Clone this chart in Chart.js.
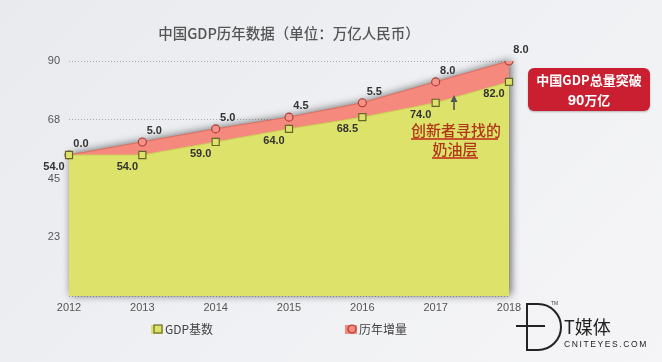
<!DOCTYPE html>
<html>
<head>
<meta charset="utf-8">
<script src="https://cdn.jsdelivr.net/npm/chart.js@4/dist/chart.umd.min.js"></script>
<style>
  html, body { margin: 0; padding: 0; }
  body {
    width: 662px; height: 362px; overflow: hidden; position: relative;
    background: linear-gradient(135deg, #e8eaee 0%, #eff0f3 50%, #f5f5f7 100%);
    font-family: "Liberation Sans", "Noto Sans CJK SC", sans-serif;
  }
  #wrap { position: absolute; left: 0; top: 0; width: 662px; height: 362px; }
  .abs { position: absolute; white-space: nowrap; }
  #title { left: 0; width: 578px; top: 22px; text-align: center; font: 500 14.5px "Noto Sans CJK SC", sans-serif; color: #555; }
  #badge {
    left: 528px; top: 68px; width: 122px; height: 43px; border-radius: 6px;
    background: #c91f30; color: #fff; text-align: center;
    font: 700 13px "Noto Sans CJK SC", sans-serif; line-height: 20px; padding-top: 2px; box-sizing: border-box;
    box-shadow: 0 1px 2px rgba(0,0,0,0.25);
  }
  #badge b { font: 700 15px "Liberation Sans", sans-serif; }
  .note { color: #b0361a; font: 500 15px "Noto Sans CJK SC", sans-serif; text-align: center; border-bottom: 2px solid #c9552c; line-height: 17px; }
  .leg { font: 12px "Noto Sans CJK SC", sans-serif; color: #444; top: 320px; }
  .sw { position: absolute; width: 12px; height: 9px; top: 5px; left: -14px; }
</style>
</head>
<body>
<div id="wrap"><canvas id="gdpChart" width="662" height="362"></canvas></div>

<div class="abs" id="title">中国GDP历年数据（单位：万亿人民币）</div>
<div class="abs" id="badge">中国GDP总量突破<br><b>90</b>万亿</div>

<svg class="abs" style="left:448px;top:95px" width="12" height="16">
  <line x1="6" y1="3" x2="6" y2="15" stroke="#555" stroke-width="1.6"/>
  <polygon points="6,0 2.5,7 9.5,7" fill="#555"/>
</svg>
<div class="abs note" style="left:411px;top:121px;width:87px;">创新者寻找的</div>
<div class="abs note" style="left:432px;top:140px;width:46px;">奶油层</div>

<div class="abs leg" style="left:165px;">
  <span class="sw" style="background:#dde36a;"></span>
  <svg class="abs" style="left:-12px;top:4px" width="10" height="10"><rect x="1" y="1" width="8" height="8" fill="#dde36a" stroke="#6a6a2c" stroke-width="1.2"/></svg>
  GDP基数
</div>
<div class="abs leg" style="left:359px;">
  <span class="sw" style="background:#f5897d;"></span>
  <svg class="abs" style="left:-12px;top:4px" width="10" height="10"><circle cx="5" cy="5" r="4" fill="#f5897d" stroke="#a83a33" stroke-width="1.2"/></svg>
  历年增量
</div>

<svg class="abs" style="left:514px;top:294px" width="48" height="62">
  <path d="M13 10 L24 10 A22 22 0 0 1 24 56 L13 56 Z" fill="none" stroke="#222" stroke-width="2"/>
  <line x1="2" y1="32" x2="31" y2="32" stroke="#222" stroke-width="2"/>
  <text x="37" y="11" font-size="5" fill="#444" font-family="Liberation Sans">TM</text>
</svg>
<div class="abs" style="left:564px;top:313px;font:18px 'Noto Sans CJK SC',sans-serif;color:#222;">T媒体</div>
<div class="abs" style="left:564px;top:339px;font:8.5px 'Liberation Sans',sans-serif;letter-spacing:1.6px;color:#222;">CNITEYES.COM</div>

<script>
const years = ['2012', '2013', '2014', '2015', '2016', '2017', '2018'];
const gdpBase = [54.0, 54.0, 59.0, 64.0, 68.5, 74.0, 82.0];
const yearlyIncrease = [0.0, 5.0, 5.0, 4.5, 5.5, 8.0, 8.0];
const yMax = 90;
const yStep = 22.5;

// soft shadow behind the whole stacked area
const areaShadow = {
    id: 'areaShadow',
    beforeDatasetsDraw(chart) {
        const ctx = chart.ctx;
        const top = chart.getDatasetMeta(1).data;
        const y0 = chart.scales.y.getPixelForValue(0);
        ctx.save();
        ctx.shadowColor = 'rgba(0,0,0,0.6)';
        ctx.shadowBlur = 9;
        ctx.shadowOffsetX = 2;
        ctx.shadowOffsetY = -1;
        ctx.fillStyle = '#dde36a';
        ctx.beginPath();
        ctx.moveTo(top[0].x, y0);
        top.forEach(p => ctx.lineTo(p.x, p.y));
        ctx.lineTo(top[top.length - 1].x, y0);
        ctx.closePath();
        ctx.fill();
        ctx.restore();
    }
};

// value labels next to the points
const valueLabels = {
    id: 'valueLabels',
    afterDatasetsDraw(chart) {
        const ctx = chart.ctx;
        ctx.save();
        ctx.font = '600 11px "Liberation Sans", sans-serif';
        ctx.fillStyle = '#333';
        ctx.textAlign = 'center';
        ctx.textBaseline = 'middle';
        chart.getDatasetMeta(0).data.forEach((p, i) => {
            ctx.fillText(gdpBase[i].toFixed(1), p.x - 15, p.y + 12);
        });
        chart.getDatasetMeta(1).data.forEach((p, i) => {
            ctx.fillText(yearlyIncrease[i].toFixed(1), p.x + 12, p.y - 11);
        });
        ctx.restore();
    }
};

const ctx = document.getElementById('gdpChart').getContext('2d');
const gdpChart = new Chart(ctx, {
    type: 'line',
    data: {
        labels: years,
        datasets: [{
            label: 'GDP基数',
            data: gdpBase,
            backgroundColor: '#dde36a',
            borderColor: '#c9cf55',
            borderWidth: 1,
            fill: 'origin',
            pointStyle: 'rect',
            pointRadius: 5,
            pointBackgroundColor: '#dde36a',
            pointBorderColor: '#66662a',
            pointBorderWidth: 1.2
        }, {
            label: '历年增量',
            data: yearlyIncrease,
            backgroundColor: '#f5897d',
            borderColor: '#e06a5e',
            borderWidth: 1,
            fill: '-1',
            pointStyle: 'circle',
            pointRadius: 4,
            pointBackgroundColor: '#f5938a',
            pointBorderColor: '#a83a33',
            pointBorderWidth: 1.1
        }]
    },
    options: {
        responsive: false,
        animation: false,
        layout: { padding: { left: 0, right: 153, top: 61, bottom: 42 } },
        elements: { line: { tension: 0 } },
        scales: {
            x: {
                offset: false,
                grid: { display: false, drawTicks: false },
                border: { display: false },
                afterFit: s => { s.height = 24; },
                ticks: { color: '#555', padding: 5, font: { size: 11, family: '"Liberation Sans", sans-serif' }, maxRotation: 0 }
            },
            y: {
                stacked: true,
                min: 0,
                max: yMax,
                border: { display: false, dash: [1, 2] },
                afterFit: s => { s.width = 69; },
                grid: { color: '#a8a8ae', lineWidth: 1, drawTicks: false },
                ticks: {
                    stepSize: yStep,
                    padding: 9,
                    color: '#555',
                    font: { size: 11, family: '"Liberation Sans", sans-serif' },
                    callback: v => v === 0 ? '' : Math.round(v)
                }
            }
        },
        plugins: {
            legend: { display: false },
            tooltip: { enabled: false }
        }
    },
    plugins: [areaShadow, valueLabels]
});
</script>
</body>
</html>
